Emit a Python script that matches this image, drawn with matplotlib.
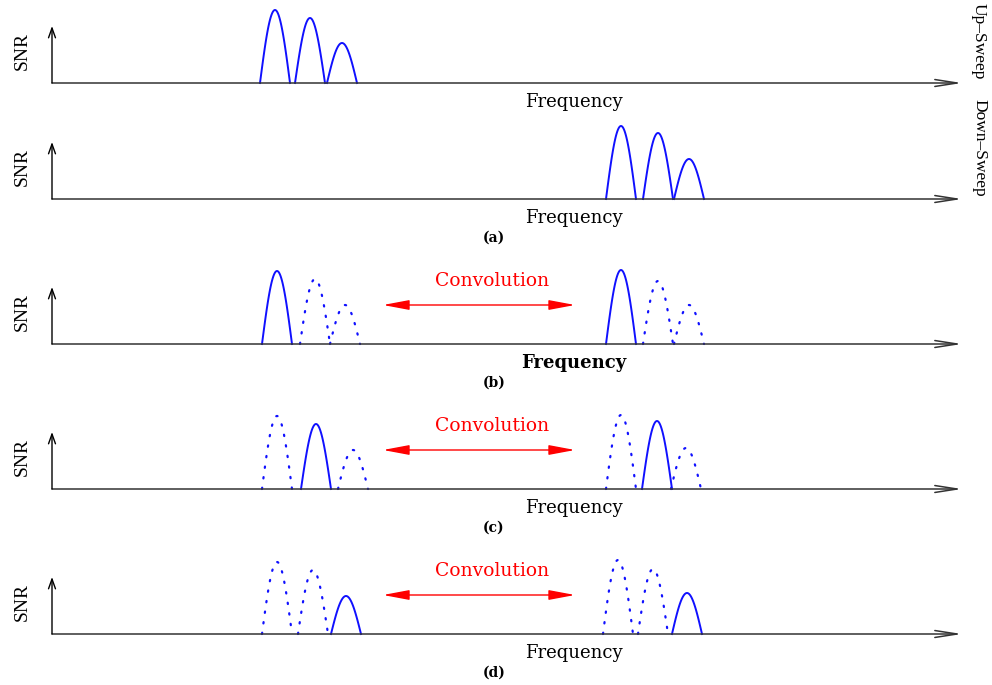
import matplotlib.pyplot as plt
import numpy as np

plt.rcParams['font.family'] = ['Liberation Serif', 'DejaVu Serif']

# hump centres (frequency) and peak SNR for each trace, top to bottom
rows = ['up', 'down', 'b', 'c', 'd']
baselines = [83, 199, 344, 489, 634]
hump_centres = {
    'up':   [275, 310, 342],
    'down': [621, 658, 689],
    'b':    [277, 315, 345, 621, 658, 689],
    'c':    [277, 316, 353, 621, 657, 686],
    'd':    [277, 313, 346, 618, 653, 687],
}
hump_peaks = {
    'up':   [73, 65, 40],
    'down': [73, 66, 40],
    'b':    [73, 65, 39, 74, 63, 39],
    'c':    [73, 65, 39, 74, 68, 41],
    'd':    [72, 64, 38, 74, 65, 41],
}
hump_solid = {
    'up':   [True, True, True],
    'down': [True, True, True],
    'b':    [True, False, False, True, False, False],
    'c':    [False, True, False, False, True, False],
    'd':    [False, False, True, False, False, True],
}
panel_tags = ['(a)', '(b)', '(c)', '(d)']

fig = plt.figure(figsize=(9.92, 6.85), dpi=100)
ax = fig.add_axes([0, 0, 1, 1])
ax.set_xlim(0, 992)
ax.set_ylim(685, 0)
ax.axis('off')

blue = '#1010ff'
wide = ['DejaVu Serif']
half_w = 15
x0, x1 = 52, 962

for row, y0 in zip(rows, baselines):
    # frequency axis and SNR axis
    ax.annotate('', xy=(x1, y0), xytext=(x0, y0),
                arrowprops=dict(arrowstyle='->,head_length=1.6,head_width=0.25',
                                color='#333333', lw=1.1, shrinkA=0, shrinkB=0))
    ax.annotate('', xy=(x0, y0 - 57), xytext=(x0, y0),
                arrowprops=dict(arrowstyle='->,head_length=0.7,head_width=0.25',
                                color='black', lw=1.0, shrinkA=0, shrinkB=0))
    ax.text(22, y0 - 32, 'SNR', rotation=90, ha='center', va='center', fontsize=14)
    weight = 'bold' if row == 'b' else 'normal'
    ax.text(574, y0 + 19, 'Frequency', ha='center', va='center', fontsize=13,
            fontweight=weight, family=wide)

    for c, h, solid in zip(hump_centres[row], hump_peaks[row], hump_solid[row]):
        t = np.linspace(0, 1, 80)
        xs = c - half_w + 2 * half_w * t
        ys = y0 - h * np.sin(np.pi * t)
        if solid:
            ax.plot(xs, ys, color=blue, lw=1.4)
        else:
            ax.plot(xs, ys, color=blue, lw=1.6, linestyle=(0, (0.6, 4.2)),
                    dash_capstyle='round')

    if row in ('b', 'c', 'd'):
        ay = y0 - 39
        ax.annotate('', xy=(575, ay), xytext=(383, ay),
                    arrowprops=dict(arrowstyle='<|-|>,head_length=1.6,head_width=0.3',
                                    color='red', lw=1.0, shrinkA=0, shrinkB=0))
        ax.text(492, y0 - 63, 'Convolution', color='red', ha='center',
                va='center', fontsize=13.5, family=wide)

# sweep labels on the right
ax.text(979, 41, 'Up\u2013Sweep', rotation=-90, ha='center', va='center', fontsize=12.5)
ax.text(979, 148, 'Down\u2013Sweep', rotation=-90, ha='center', va='center', fontsize=12.5)

# panel tags under each group
for tag, y0 in zip(panel_tags, baselines[1:]):
    ax.text(494, y0 + 39, tag, ha='center', va='center', fontsize=10,
            fontweight='bold', family=wide)

fig.savefig('out.png', dpi=100)
